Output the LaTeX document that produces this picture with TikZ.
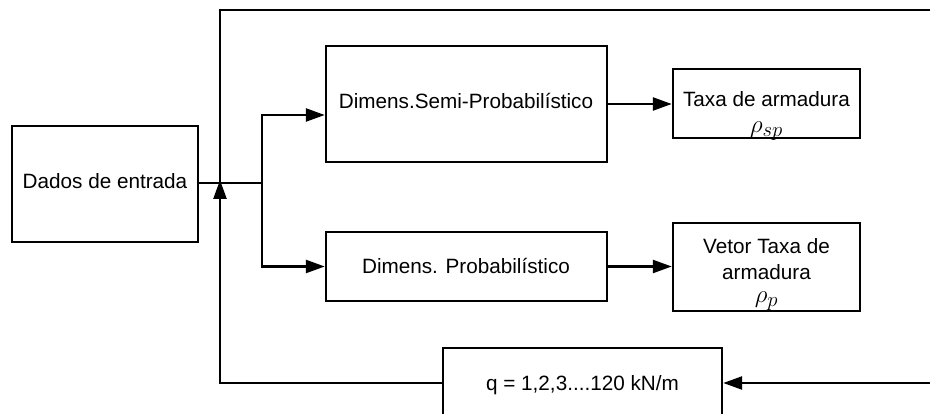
\documentclass[tikz,border=0pt]{standalone}
\usepackage{fontspec}
\setmainfont{Liberation Sans}
\usetikzlibrary{arrows.meta}
\begin{document}
\begin{tikzpicture}[x=1pt,y=-1pt,
  box/.style={draw, line width=2.4pt, inner sep=0pt},
  lbl/.style={font=\fontsize{20.7}{24}\selectfont, inner sep=0pt, anchor=base},
  sym/.style={lbl, font=\fontsize{29}{30}\selectfont},
  wire/.style={line width=2.4pt},
  arr/.style={wire, -{Triangle[length=19pt,width=13pt]}}]
\useasboundingbox (0,0) rectangle (930,414);
\clip (0,0) rectangle (930,414);

% boxes
\node[box, minimum width=186pt, minimum height=116pt] (dados) at (105,184) {};
\node[box, minimum width=281pt, minimum height=116pt] (semi) at (466.5,104) {};
\node[box, minimum width=281pt, minimum height=69pt] (prob) at (466.5,266.5) {};
\node[box, minimum width=187pt, minimum height=69pt] (taxa) at (766.5,103.5) {};
\node[box, minimum width=187pt, minimum height=88pt] (vetor) at (766.5,267) {};
\node[box, minimum width=279pt, minimum height=90pt] (qbox) at (582.5,393) {};

% texts
\node[lbl] (tdados) at (105,189) {Dados de entrada};
\node[lbl] (tsemi) at (466,109) {Dimens.Semi-Probabilístico};
\node[lbl] (tprob) at (466,274) {Dimens. Probabilístico};
\node[lbl] (ttaxa) at (766.5,107) {Taxa de armadura};
\node[sym] (rsp) at (766.5,133) {$\rho_{sp}$};
\node[lbl] (tvet1) at (766.5,254) {Vetor Taxa de};
\node[lbl] (tvet2) at (766.5,280) {armadura};
\node[sym] (rp) at (766.5,303) {$\rho_{p}$};
\node[lbl] (tq) at (582.5,390) {q = 1,2,3....120 kN/m};

% junction points
\coordinate (J) at (262,183);
\coordinate (F) at (220,183);
\coordinate (tr) at (935,10);
\coordinate (br) at (935,383);

% main flow
\draw[wire] (dados.east |- J) -- (J);
\draw[arr] (J) |- (semi.west |- 0,115);
\draw[arr] (J) |- (prob.west);
\draw[arr] (semi.east |- 0,104) -- (taxa.west |- 0,104);
\draw[arr] (prob.east) -- (prob.east -| vetor.west);

% feedback loop
\draw[wire] (F) |- (tr);
\draw[arr] (br) -- (qbox.east |- br);
\draw[arr] (qbox.west |- br) -| ([yshift=3pt]F);
\end{tikzpicture}
\end{document}
